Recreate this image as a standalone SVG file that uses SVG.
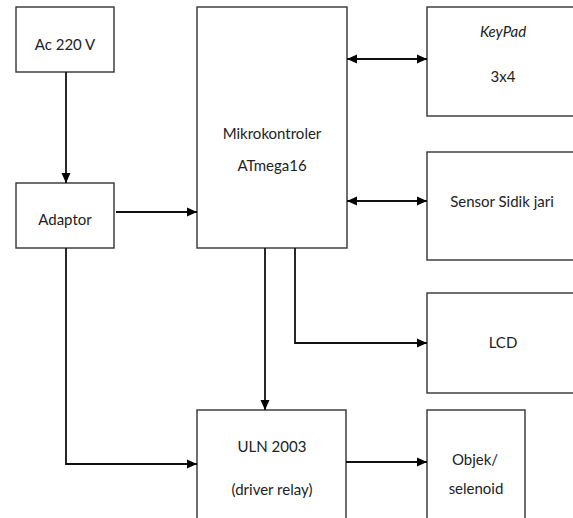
<svg xmlns="http://www.w3.org/2000/svg" width="573" height="518" viewBox="0 0 573 518">
<defs>
<marker id="ah" markerUnits="userSpaceOnUse" markerWidth="10" markerHeight="10" viewBox="0 0 10 10" refX="10" refY="5" orient="auto-start-reverse">
<path d="M0,0.5 L10,5 L0,9.5 Z" fill="#000"/>
</marker>
</defs>
<style>
.box{fill:#fff;stroke:#333;stroke-width:1.4}
.t{font-family:Lato,"Liberation Sans",sans-serif;font-size:15px;fill:#222;text-anchor:middle}
.c{fill:none;stroke:#111;stroke-width:1.8}
</style>
<rect width="573" height="518" fill="#fff"/>
<g id="ac">
<rect class="box" x="16" y="7" width="98" height="65"/>
<text class="t" x="65" y="50">Ac 220 V</text>
</g>
<g id="adaptor">
<rect class="box" x="16" y="183" width="98" height="65"/>
<text class="t" x="65" y="225">Adaptor</text>
</g>
<g id="mikro">
<rect class="box" x="197" y="7" width="150" height="241"/>
<text class="t" x="272" y="139">Mikrokontroler</text>
<text class="t" x="272" y="171">ATmega16</text>
</g>
<g id="keypad">
<rect class="box" x="427" y="7" width="160" height="109"/>
<text class="t" x="503" y="37" font-style="italic">KeyPad</text>
<text class="t" x="503" y="82">3x4</text>
</g>
<g id="sensor">
<rect class="box" x="427" y="152" width="160" height="108"/>
<text class="t" x="502" y="207">Sensor Sidik jari</text>
</g>
<g id="lcd">
<rect class="box" x="427" y="293" width="160" height="100"/>
<text class="t" x="503" y="348">LCD</text>
</g>
<g id="uln">
<rect class="box" x="197" y="410" width="149" height="120"/>
<text class="t" x="272" y="452">ULN 2003</text>
<text class="t" x="272" y="495">(driver relay)</text>
</g>
<g id="objek">
<rect class="box" x="427" y="410" width="98" height="120"/>
<text class="t" x="475" y="465">Objek/</text>
<text class="t" x="476" y="494">selenoid</text>
</g>
<g id="connectors">
<path class="c" d="M66,72 V183" marker-end="url(#ah)"/>
<path class="c" d="M116,212 H197" marker-end="url(#ah)"/>
<path class="c" d="M347,59 H427" marker-start="url(#ah)" marker-end="url(#ah)"/>
<path class="c" d="M347,201 H427" marker-start="url(#ah)" marker-end="url(#ah)"/>
<path class="c" d="M265,248 V410" marker-end="url(#ah)"/>
<path class="c" d="M295,248 V343 H427" marker-end="url(#ah)"/>
<path class="c" d="M66,248 V464 H197" marker-end="url(#ah)"/>
<path class="c" d="M346,462 H427" marker-end="url(#ah)"/>
</g>
</svg>
